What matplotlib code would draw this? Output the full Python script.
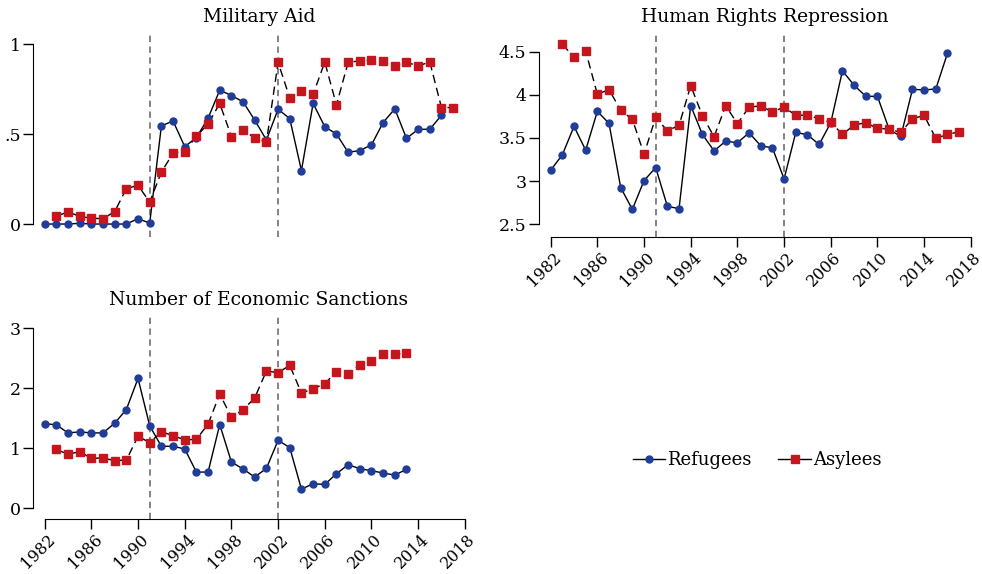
import matplotlib
matplotlib.use('Agg')
import matplotlib.pyplot as plt
import matplotlib.transforms as mtransforms
from matplotlib.lines import Line2D
import numpy as np

plt.rcParams['font.family'] = ['DejaVu Serif']
plt.rcParams['font.size'] = 12

blue = '#1f3d99'
red = '#c4161c'

years_ref = np.arange(1982, 2017)
years_asy = np.arange(1983, 2018)
years_ref_san = np.arange(1982, 2014)
years_asy_san = np.arange(1983, 2014)

# Military aid
aid_ref = [0, 0, 0, 0.004, 0, 0, 0, 0, 0.03, 0.005,
           0.545, 0.573, 0.43, 0.48, 0.588, 0.744, 0.714, 0.679, 0.577, 0.467,
           0.638, 0.586, 0.297, 0.67, 0.541, 0.50, 0.399, 0.408, 0.44, 0.564,
           0.64, 0.476, 0.526, 0.527, 0.604]
aid_asy = [0.044, 0.067, 0.043, 0.032, 0.03, 0.069, 0.197, 0.215, 0.122,
           0.289, 0.393, 0.402, 0.488, 0.556, 0.67, 0.486, 0.525, 0.477, 0.456,
           0.898, 0.701, 0.74, 0.72, 0.90, 0.662, 0.898, 0.907, 0.911, 0.907,
           0.879, 0.898, 0.879, 0.90, 0.647, 0.647]

# Human rights repression
hrr_ref = [3.125, 3.304, 3.634, 3.358, 3.809, 3.669, 2.923, 2.671, 3.005, 3.156,
           2.706, 2.679, 3.875, 3.541, 3.35, 3.463, 3.444, 3.56, 3.409, 3.385,
           3.024, 3.564, 3.537, 3.424, 3.677, 4.279, 4.112, 3.983, 3.983, 3.60,
           3.517, 4.065, 4.057, 4.069, 4.484]
hrr_asy = [4.585, 4.442, 4.508, 4.007, 4.061, 3.82, 3.716, 3.312, 3.739,
           3.583, 3.646, 4.108, 3.758, 3.514, 3.875, 3.665, 3.859, 3.871, 3.801,
           3.859, 3.762, 3.766, 3.723, 3.681, 3.541, 3.65, 3.677, 3.611, 3.603,
           3.564, 3.723, 3.762, 3.494, 3.541, 3.572]

# Economic sanctions
san_ref = [1.411, 1.389, 1.255, 1.272, 1.255, 1.255, 1.417, 1.645, 2.164, 1.372,
           1.032, 1.032, 0.987, 0.602, 0.602, 1.394, 0.77, 0.653, 0.519, 0.664,
           1.132, 1.009, 0.318, 0.407, 0.396, 0.574, 0.725, 0.658, 0.625, 0.586,
           0.552, 0.647]
san_asy = [0.982, 0.898, 0.943, 0.831, 0.837, 0.792, 0.803, 1.199, 1.093,
           1.272, 1.21, 1.138, 1.149, 1.4, 1.902, 1.517, 1.64, 1.84, 2.287,
           2.259, 2.381, 1.919, 1.991, 2.075, 2.276, 2.231, 2.393, 2.46, 2.566,
           2.571, 2.582]

xticks = np.arange(1982, 2019, 4)
breaks = [1991, 2002]

W, H = 982, 574
fig = plt.figure(figsize=(W / 100, H / 100), dpi=100)


def make_ax(left, top, right, bottom):
    return fig.add_axes([left / W, 1 - bottom / H, (right - left) / W,
                         (bottom - top) / H])


def draw(ax, title, xr, yr, xa, ya, ylim, yticks, ylabels, show_x):
    for b in breaks:
        ax.axvline(b, color='#7a7a7a', lw=1.3, ls=(0, (3.5, 2.5)), zorder=1)
    ax.plot(xr, yr, color='black', lw=1, zorder=2)
    ax.plot(xr, yr, ls='none', marker='o', ms=5, color=blue, zorder=3)
    ax.plot(xa, ya, color='black', lw=1, ls=(0, (6, 3.5)), zorder=2)
    ax.plot(xa, ya, ls='none', marker='s', ms=6, color=red, zorder=4)
    ax.set_xlim(1981, 2018.1)
    ax.set_ylim(*ylim)
    ax.set_yticks(yticks)
    ax.set_yticklabels(ylabels)
    ax.spines['top'].set_visible(False)
    ax.spines['right'].set_visible(False)
    ax.spines['left'].set_bounds(yticks[0], yticks[-1])
    ax.tick_params(axis='y', length=7, width=1, pad=2, labelsize=12.5)
    if show_x:
        ax.set_xticks(xticks)
        ax.set_xticklabels([str(x) for x in xticks], rotation=45,
                           ha='right', va='top', rotation_mode='anchor')
        ax.spines['bottom'].set_bounds(1982, 2018)
        ax.tick_params(axis='x', length=7, width=1, pad=1.7, labelsize=11.5)
        offset = mtransforms.ScaledTranslation(2 / 100, 0, fig.dpi_scale_trans)
        for label in ax.xaxis.get_majorticklabels():
            label.set_transform(label.get_transform() + offset)
    else:
        ax.spines['bottom'].set_visible(False)
        ax.set_xticks([])
    ax.set_title(title, x=0.522, pad=7, fontsize=13.5)


ax1 = make_ax(33, 32, 466, 237)
draw(ax1, 'Military Aid', years_ref, aid_ref, years_asy, aid_asy,
     (-0.072, 1.067), [0, 0.5, 1], ['0', '.5', '1'], False)

ax2 = make_ax(539, 32, 972, 237)
draw(ax2, 'Human Rights Repression', years_ref, hrr_ref, years_asy, hrr_asy,
     (2.35, 4.73), [2.5, 3, 3.5, 4, 4.5], ['2.5', '3', '3.5', '4', '4.5'], True)

ax3 = make_ax(33, 315, 466, 519)
draw(ax3, 'Number of Economic Sanctions', years_ref_san, san_ref,
     years_asy_san, san_asy, (-0.18, 3.22), [0, 1, 2, 3],
     ['0', '1', '2', '3'], True)

handles = [Line2D([], [], color='black', lw=1, marker='o', ms=5,
                  markerfacecolor=blue, markeredgecolor=blue),
           Line2D([], [], color='black', lw=1, marker='s', ms=6,
                  markerfacecolor=red, markeredgecolor=red)]
fig.legend(handles, ['Refugees', 'Asylees'], loc='center',
           bbox_to_anchor=(757 / W, 1 - 460 / H), ncol=2, frameon=False,
           fontsize=13, handlelength=1.8, handletextpad=0.1,
           columnspacing=1.5)

fig.savefig('out.png', dpi=100)
